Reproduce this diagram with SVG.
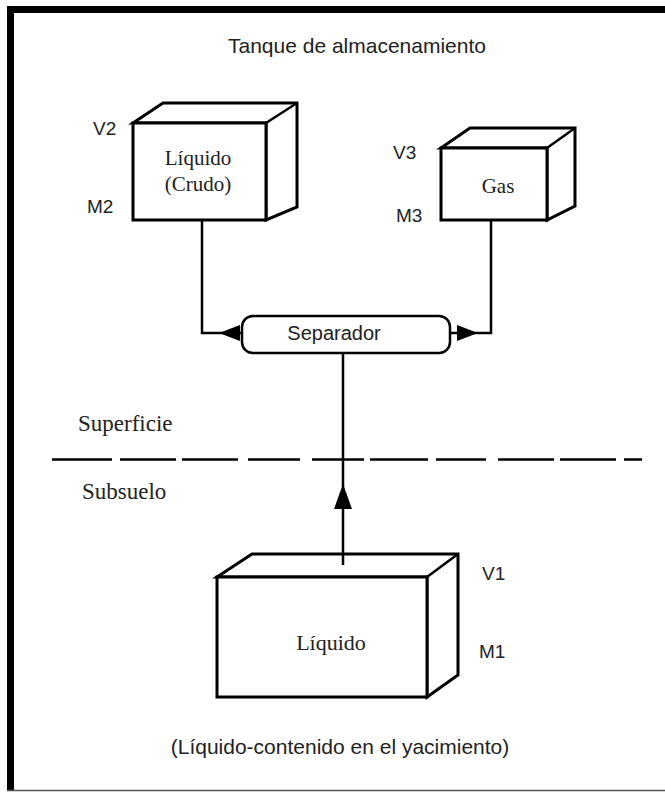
<svg xmlns="http://www.w3.org/2000/svg" width="665" height="793" viewBox="0 0 665 793">
<style>
.box{fill:#fff;stroke:#000;stroke-width:3;stroke-linejoin:miter}
.line{fill:none;stroke:#000;stroke-width:2.5}
.sans{font-family:"Liberation Sans",Arial,sans-serif;font-size:19px;fill:#222}
.title{font-family:"Liberation Sans",Arial,sans-serif;font-size:21px;fill:#222}
.serif{font-family:"Liberation Serif","Times New Roman",serif;font-size:21px;fill:#222}
.serifl{font-family:"Liberation Serif","Times New Roman",serif;font-size:23px;fill:#222}
</style>
<rect width="665" height="793" fill="#fff"/>
<g id="frame">
<rect x="7" y="6" width="7" height="785" fill="#000"/>
<rect x="7" y="6" width="658" height="7" fill="#000"/>
<line x1="7" y1="790.5" x2="665" y2="790.5" stroke="#555" stroke-width="1.5"/>
</g>
<text class="title" x="357" y="53" text-anchor="middle">Tanque de almacenamiento</text>
<g id="tank-liquid">
<polygon class="box" points="133,123 163,103 297,103 297,207 266,220 266,123"/>
<line class="line" x1="266" y1="123" x2="297" y2="103" stroke-width="3"/>
<rect class="box" x="133" y="123" width="133" height="97"/>
<text class="serif" x="198" y="165" text-anchor="middle">Líquido</text>
<text class="serif" x="198" y="191" text-anchor="middle">(Crudo)</text>
<text class="sans" x="93" y="135">V2</text>
<text class="sans" x="87" y="213">M2</text>
</g>
<g id="tank-gas">
<polygon class="box" points="441,148 470,128 575,128 575,206 547,220 547,148"/>
<line class="line" x1="547" y1="148" x2="575" y2="128" stroke-width="3"/>
<rect class="box" x="441" y="148" width="106" height="72"/>
<text class="serif" x="498" y="193" text-anchor="middle">Gas</text>
<text class="sans" x="393" y="159">V3</text>
<text class="sans" x="396" y="222">M3</text>
</g>
<g id="separator">
<rect x="242" y="316" width="208" height="37" rx="11" ry="11" fill="#fff" stroke="#000" stroke-width="2.5"/>
<text class="sans" x="334" y="340" text-anchor="middle" style="font-size:20px">Separador</text>
</g>
<g id="reservoir">
<polygon class="box" points="217,577 252,554 458,554 458,675 427,697 427,577"/>
<line class="line" x1="427" y1="577" x2="458" y2="554" stroke-width="3"/>
<rect class="box" x="217" y="577" width="210" height="120"/>
<text class="serifl" x="331" y="650" text-anchor="middle" style="font-size:22px">Líquido</text>
<text class="sans" x="482" y="580">V1</text>
<text class="sans" x="479" y="658">M1</text>
</g>
<g id="ground">
<line x1="52" y1="459.5" x2="642" y2="459.5" stroke="#000" stroke-width="2.5" stroke-dasharray="60 8 56 6 56 10 52 12 52 6 58 8 50 12 56 6 56 8 18 10"/>
<text class="serifl" x="78" y="431">Superficie</text>
<text class="serifl" x="82" y="499">Subsuelo</text>
</g>
<g id="connectors">
<polyline class="line" points="202,220 202,333 242,333"/>
<polygon points="219,333 240,325 240,341" fill="#000"/>
<polyline class="line" points="450,333 491,333 491,220"/>
<polygon points="478,333 457,325 457,341" fill="#000"/>
<line class="line" x1="343" y1="353" x2="343" y2="565"/>
<polygon points="343,484 334,509 352,509" fill="#000"/>
</g>
<text class="title" x="340" y="754" text-anchor="middle">(Líquido-contenido en el yacimiento)</text>
</svg>
